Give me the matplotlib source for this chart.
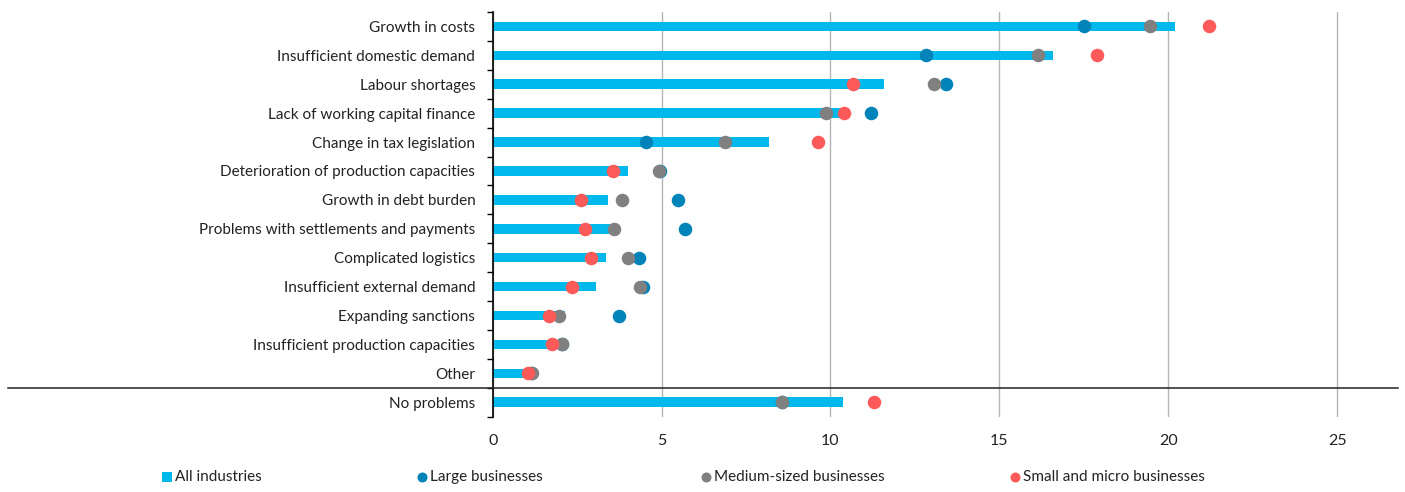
import matplotlib
matplotlib.use("Agg")
import matplotlib.pyplot as plt
from matplotlib.lines import Line2D
from matplotlib import transforms
import numpy as np

categories = [
    "Growth in costs",
    "Insufficient domestic demand",
    "Labour shortages",
    "Lack of working capital finance",
    "Change in tax legislation",
    "Deterioration of production capacities",
    "Growth in debt burden",
    "Problems with settlements and payments",
    "Complicated logistics",
    "Insufficient external demand",
    "Expanding sanctions",
    "Insufficient production capacities",
    "Other",
    "No problems",
]
all_industries = [20.2, 16.6, 11.58, 10.36, 8.19, 4.02, 3.40, 3.47, 3.36, 3.07, 2.15, 1.91, 1.07, 10.36]
large = [17.5, 12.83, 13.42, 11.19, 4.53, 4.95, 5.50, 5.68, 4.33, 4.44, 3.75, 2.05, 1.12, 8.55]
medium = [19.46, 16.14, 13.07, 9.87, 6.87, 4.92, 3.83, 3.59, 4.01, 4.37, 1.96, 2.05, 1.15, 8.55]
small = [21.2, 17.9, 10.68, 10.41, 9.64, 3.55, 2.62, 2.74, 2.92, 2.35, 1.67, 1.76, 1.04, 11.30]
series_names = ["All industries", "Large businesses", "Medium-sized businesses", "Small and micro businesses"]
xticks = [0, 5, 10, 15, 20, 25]

c_bar = "#00B9EC"
c_large = "#0083B8"
c_med = "#808080"
c_small = "#FF5A5A"

plt.rcParams['font.family'] = ['Lato', 'DejaVu Sans']

W, H = 1405, 492
fig = plt.figure(figsize=(W / 100, H / 100), dpi=100)
ax = fig.add_axes([492.7 / W, 1 - 416.7 / H, (1398 - 492.7) / W, (416.7 - 12) / H])

y = np.arange(len(categories))
ax.barh(y, all_industries, height=0.33, color=c_bar, zorder=2)
ax.scatter(large, y, s=95, color=c_large, zorder=3, linewidths=0)
ax.scatter(medium, y, s=95, color=c_med, zorder=4, linewidths=0)
ax.scatter(small, y, s=95, color=c_small, zorder=5, linewidths=0)

ax.set_ylim(len(categories) - 0.5, -0.5)
ax.set_xlim(0, 26.8)
ax.set_yticks(y)
ax.set_yticklabels(categories, fontsize=11, color="#222222")
ax.set_yticks(np.arange(-0.5, len(categories), 1), minor=True)
ax.tick_params(axis='y', which='major', length=0, pad=12.5)
ax.tick_params(axis='y', which='minor', length=4, direction='out', color="black", width=1)
ax.set_xticks(xticks)
ax.set_xticklabels([str(t) for t in xticks], fontsize=11.5, color="#222222")
ax.tick_params(axis='x', length=0, pad=12.5)
ax.grid(axis='x', color="#B5B5B5", lw=1, zorder=0)
ax.set_axisbelow(True)
for s in ['top', 'right', 'bottom']:
    ax.spines[s].set_visible(False)
ax.spines['left'].set_color("black")
ax.spines['left'].set_linewidth(1.2)
ax.spines['left'].set_zorder(6)

# separator line between "Other" and "No problems"
tr = transforms.blended_transform_factory(fig.transFigure, ax.transData)
ax.add_line(Line2D([8 / W, 1398 / W], [12.5, 12.5], transform=tr, color="#222222", lw=1.1, clip_on=False, zorder=7))

# legend (manual)
leg_y = 1 - 477 / H
markers = [("s", c_bar, 167), ("o", c_large, 421.7), ("o", c_med, 706), ("o", c_small, 1015)]
for (m, c, xm), name in zip(markers, series_names):
    fig.add_artist(Line2D([xm / W], [leg_y], marker=m, color=c, markersize=7.2, linestyle='none', markeredgewidth=0))
    fig.text((xm + 8) / W, leg_y, name, fontsize=11, va='center', ha='left', color="#222222")

fig.savefig("out.png", dpi=100)
